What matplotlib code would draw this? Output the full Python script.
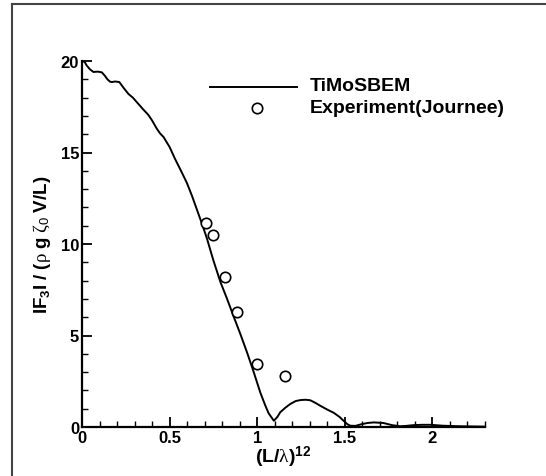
import matplotlib
matplotlib.use("Agg")
import matplotlib.pyplot as plt
from matplotlib.lines import Line2D
from matplotlib.ticker import MultipleLocator

plt.rcParams['font.family'] = ['Liberation Sans', 'DejaVu Sans']
plt.rcParams['mathtext.fontset'] = 'custom'
plt.rcParams['mathtext.rm'] = 'Liberation Sans'
plt.rcParams['mathtext.bf'] = 'Liberation Sans:bold'
plt.rcParams['mathtext.it'] = 'Liberation Serif'

# Computed curve (TiMoSBEM)
sim_x = [0, 0.015, 0.027, 0.045, 0.065, 0.09, 0.113, 0.13, 0.145, 0.16, 0.17, 0.19, 0.213,
         0.24, 0.265, 0.29, 0.313, 0.345, 0.379, 0.4, 0.427, 0.445, 0.465, 0.5, 0.531,
         0.565, 0.598, 0.627, 0.655, 0.685, 0.713, 0.75, 0.789, 0.828, 0.865, 0.903, 0.941,
         0.98, 1.017, 1.045, 1.065, 1.095, 1.115, 1.131, 1.16, 1.189, 1.22, 1.246, 1.275,
         1.303, 1.33, 1.36, 1.4, 1.436, 1.47, 1.493, 1.515, 1.531, 1.56, 1.598, 1.63,
         1.665, 1.72, 1.77, 1.817, 1.85, 1.89, 1.94, 1.99, 2.06, 2.16, 2.3]
sim_y = [20.0, 19.95, 19.75, 19.55, 19.4, 19.42, 19.38, 19.2, 19.0, 18.87, 18.85, 18.88, 18.85,
         18.5, 18.2, 18.0, 17.75, 17.4, 17.05, 16.75, 16.3, 16.05, 15.85, 15.3, 14.65,
         14.0, 13.35, 12.65, 11.9, 11.1, 10.3, 9.1, 7.95, 7.0, 6.05, 5.1, 4.1,
         3.0, 1.9, 1.2, 0.75, 0.34, 0.55, 0.8, 1.05, 1.26, 1.42, 1.47, 1.49,
         1.46, 1.33, 1.16, 0.95, 0.78, 0.55, 0.34, 0.15, 0.07, 0.06, 0.16, 0.22,
         0.25, 0.22, 0.1, 0.04, 0.06, 0.1, 0.12, 0.12, 0.07, 0.04, 0.02]

# Experiment (Journee)
exp_x = [0.707, 0.749, 0.818, 0.887, 1.00, 1.156]
exp_y = [11.15, 10.51, 8.21, 6.27, 3.43, 2.80]

legend_labels = ["TiMoSBEM", "Experiment(Journee)"]

fig = plt.figure(figsize=(5.46, 4.77), dpi=100)
ax = fig.add_axes([82/546, 1-428/477, (485-82)/546, (428-62)/477])

ax.plot(sim_x, sim_y, color='black', lw=1.4)
ax.plot(exp_x, exp_y, 'o', ms=7.5, mfc='white', mec='black', mew=1.2)

ax.set_xlim(0, 2.3)
ax.set_ylim(0, 20)
ax.xaxis.set_minor_locator(MultipleLocator(0.1))
ax.yaxis.set_major_locator(MultipleLocator(5))
ax.yaxis.set_minor_locator(MultipleLocator(1))
ax.set_xticks([0, 0.5, 1, 1.5, 2])
ax.set_xticklabels(['0', '0.5', '1', '1.5', '2'])
ax.tick_params(which='major', direction='in', length=7, width=1.3, labelsize=12, pad=2)
ax.tick_params(which='minor', direction='in', length=4, width=1.0)
for lab in ax.get_xticklabels() + ax.get_yticklabels():
    lab.set_fontweight('bold')
ax.spines['top'].set_visible(False)
ax.spines['right'].set_visible(False)
ax.spines['left'].set_linewidth(1.6)
ax.spines['bottom'].set_linewidth(1.6)

ax.set_xlabel(r'$\mathbf{(L/}\lambda\mathbf{)}^{\mathbf{12}}$', fontsize=14)
ax.xaxis.set_label_coords(0.5, -0.046)
ax.set_ylabel(r'$\mathbf{IF_3I\ /\ (}\rho\ \mathbf{g}\ \zeta_0\ \mathbf{V/L)}$', fontsize=13.5)
ax.yaxis.set_label_coords(-0.072, 0.5)

# manual legend
ax.add_line(Line2D([0.318, 0.533], [0.929, 0.929], transform=ax.transAxes, color='black', lw=1.4))
ax.plot([0.434], [0.872], 'o', ms=7.5, mfc='white', mec='black', mew=1.2, transform=ax.transAxes)
ax.text(0.566, 0.932, legend_labels[0], transform=ax.transAxes, fontsize=14, fontweight='bold', va='center')
ax.text(0.566, 0.872, legend_labels[1], transform=ax.transAxes, fontsize=14, fontweight='bold', va='center')

# figure frame
fig.add_artist(Line2D([12/546, 1], [1-5/477, 1-5/477], transform=fig.transFigure, color='#444444', lw=1.5))
fig.add_artist(Line2D([12/546, 12/546], [0, 1-5/477], transform=fig.transFigure, color='#444444', lw=1.5))

fig.savefig('out.png', dpi=100)
